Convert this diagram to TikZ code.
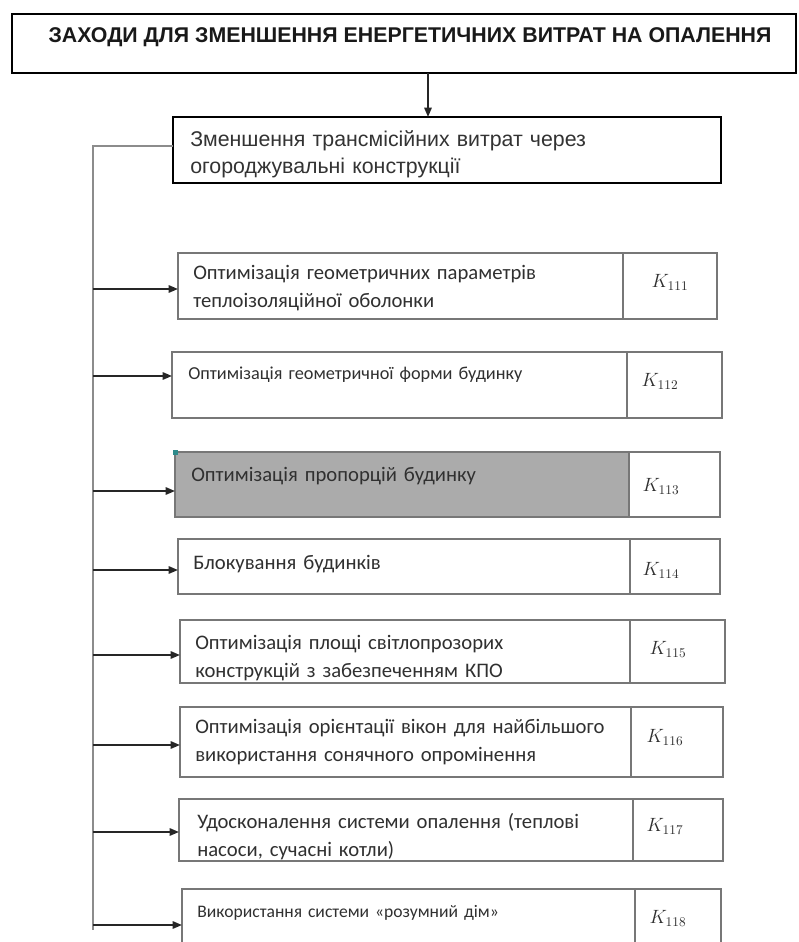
\documentclass[tikz,border=0pt]{standalone}
\usepackage{fontspec}
\setmainfont{Carlito}
\newfontfamily\headfont{Liberation Sans}
\usetikzlibrary{positioning,arrows.meta}
\definecolor{framegrey}{HTML}{777777}
\definecolor{spinegrey}{HTML}{8C8C8C}
\definecolor{fillgrey}{HTML}{ABABAB}
\definecolor{textgrey}{HTML}{303030}
\definecolor{handleteal}{HTML}{2E8B8B}

\tikzset{
  headframe/.style={draw=black,line width=2.2pt,inner sep=0pt,outer sep=0pt,anchor=north west},
  cell/.style={draw=framegrey,line width=1pt,inner sep=0pt,outer sep=0pt,anchor=north west},
  celltext/.style={text=textgrey,inner sep=0pt,anchor=base west,text width=340pt,align=left,
    font=\fontsize{#1}{21.5pt}\selectfont},
  celltext/.default=15.5pt,
  coef/.style={text=textgrey,inner sep=0pt,font=\fontsize{14.5pt}{16pt}\selectfont},
  feed/.style={-{Triangle[length=7pt,width=5.5pt]},line width=1.4pt,black!85},
  spine/.style={spinegrey,line width=1.1pt},
}

\begin{document}
\begin{tikzpicture}[x=0.75pt,y=-0.75pt]
  \useasboundingbox (0,0) rectangle (799,942);
  \clip (0,0) rectangle (799,942);
  \fill[white] (0,0) rectangle (799,942);

  % head and sub-goal
  \node[headframe,minimum width={784*0.75pt},minimum height={59*0.75pt}] (head) at (12,14) {};
  \node[font=\headfont\bfseries\fontsize{16pt}{18pt}\selectfont,text=black!90] (title) at (410,37)
    {ЗАХОДИ ДЛЯ ЗМЕНШЕННЯ ЕНЕРГЕТИЧНИХ ВИТРАТ НА ОПАЛЕННЯ};
  \node[headframe,minimum width={548*0.75pt},minimum height={66*0.75pt}] (sub) at (173,117) {};
  \node[font=\headfont\fontsize{16pt}{20.5pt}\selectfont,text=black!80,anchor=base west,
    text width=400pt,align=left,inner sep=0pt] (subtext) at (190,146)
    {Зменшення трансмісійних витрат через\\огороджувальні конструкції};
  \coordinate (drop) at (428,0);
  \draw[feed] (head.south -| drop) -- (sub.north -| drop);

  % measures
  \foreach \i/\l/\t/\d/\r/\b/\f in {1/178/253/623/717/319/white,2/172/352/627/722/418/white,
      3/175/452/629/720/517/fillgrey,4/178/539/630/720/594/white,5/180/620/630/725/683/white,
      6/180/707/631/723/777/white,7/179/799/633/723/861/white,8/182/889/635/721/960/white}{
    \node[cell,fill=\f,minimum width={(\d-\l)*0.75pt},minimum height={(\b-\t)*0.75pt}] (m\i) at (\l,\t) {};
    \node[cell,minimum width={(\r-\d)*0.75pt},minimum height={(\b-\t)*0.75pt}] (k\i) at (\d,\t) {};
  }
  \fill[handleteal] (173,450) rectangle (178,455);

  \node[celltext] (t1) at (193,279) {Оптимізація геометричних параметрів\\теплоізоляційної оболонки};
  \node[celltext=13.7pt] (t2) at (188,379.5) {Оптимізація геометричної форми будинку};
  \node[celltext] (t3) at (191,481) {Оптимізація пропорцій будинку};
  \node[celltext] (t4) at (193,569) {Блокування будинків};
  \node[celltext] (t5) at (195,649) {Оптимізація площі світлопрозорих\\конструкцій з забезпеченням КПО};
  \node[celltext] (t6) at (195,733) {Оптимізація орієнтації вікон для найбільшого\\використання сонячного опромінення};
  \node[celltext] (t7) at (197,828) {Удосконалення системи опалення (теплові\\насоси, сучасні котли)};
  \node[celltext=13.2pt] (t8) at (197,917.5) {Використання системи «розумний дім»};

  \node[coef] (c1) at (670,282) {$K_{111}$};
  \node[coef] (c2) at (660,381) {$K_{112}$};
  \node[coef] (c3) at (661,486) {$K_{113}$};
  \node[coef] (c4) at (661,570) {$K_{114}$};
  \node[coef] (c5) at (668,649) {$K_{115}$};
  \node[coef] (c6) at (665,737) {$K_{116}$};
  \node[coef] (c7) at (665,826) {$K_{117}$};
  \node[coef] (c8) at (668,918) {$K_{118}$};

  % spine and feeds
  \coordinate (spinetop) at (93,146);
  \coordinate (spineend) at (93,930);
  \draw[spine] (sub.west |- spinetop) -- (spinetop) -- (spineend);
  \foreach \i/\y in {1/289,2/376,3/491,4/570,5/655,6/745,7/832,8/925}{
    \coordinate (a\i) at (93,\y);
    \draw[feed] (a\i) -- (m\i.west |- a\i);
  }
\end{tikzpicture}
\end{document}
